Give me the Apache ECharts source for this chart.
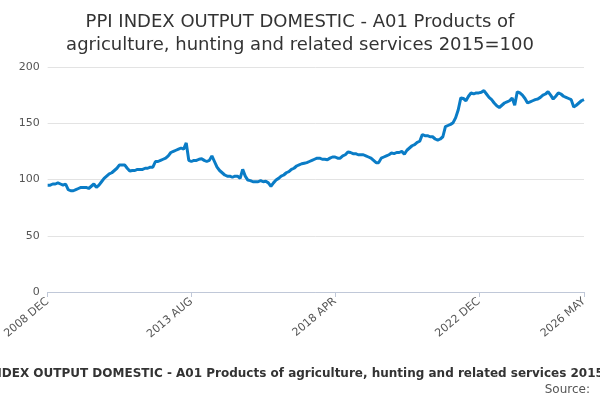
<!DOCTYPE html>
<html>
<head>
<meta charset="utf-8">
<script src="https://cdn.jsdelivr.net/npm/echarts@6/dist/echarts.min.js"></script>
<style>html,body{margin:0;padding:0;background:#fff}#main{width:600px;height:400px}</style>
</head>
<body>
<div id="main"></div>
<script>
// monthly index, 2008 DEC .. 2026 MAY
var values = [
	95,95,96,96,97,96,95,96,91,90,
	90,91,92,93,93,93,92,94,96,93,
	95,98,101,103,105,106,108,110,113,113,
	113,110,107.5,108,108,109,109,109,110,110,
	111,111,116,116,117,118,119,121,124,125,
	126,127,128,127,132.5,117,116,117,117,118,
	118.5,117,116,117,121,116,111,108,106,104,
	103,103,102,103,103,101,109,103,99.5,99,
	98,98,98,99,98,98.5,97,94,97,99.5,
	101,103,104,106,107,109,110,112,113,114,
	114.5,115,116,117,118,119,119,118,118,117.5,
	119,120,120,119,119,121,122,124.5,124,123,
	123,122,122,122,121,120,119,117,115,115,
	119,120,121,122,123.5,123,124,124,125,122.5,
	126,128,130,131,133,134,140,139,139,138,
	138,136,135,136,138,147,148,149,150.5,155,
	162,172.5,172,170,174,177,176,177,177,177.5,
	179,176,173,171,168,165.5,164,166,168,169,
	170,172.5,166,178,177,175,172,168,169,170,
	171,171.5,173,175,176,178,175,171.5,174,177,
	176,174,173,172,171,164.5,166,168,170,171
];
var monthNames = ['JAN','FEB','MAR','APR','MAY','JUN','JUL','AUG','SEP','OCT','NOV','DEC'];
var yTicks = [0, 50, 100, 150, 200];
var titleText = 'PPI INDEX OUTPUT DOMESTIC - A01 Products of\nagriculture, hunting and related services 2015=100';
var footText = 'PPI INDEX OUTPUT DOMESTIC - A01 Products of agriculture, hunting and related services 2015=100';

var months = [];
for (var i = 0; i < values.length; i++) {
	var m = 11 + i;
	months.push((2008 + Math.floor(m / 12)) + ' ' + monthNames[m % 12]);
}
var lastIdx = months.length - 1;

var myChart = echarts.init(document.getElementById('main'));
myChart.setOption({
	animation: false,
	title: {
		text: titleText,
		left: 'center',
		top: 6,
		textStyle: { fontFamily: 'DejaVu Sans', fontSize: 18, fontWeight: 'normal', color: '#333', lineHeight: 23 }
	},
	graphic: [{
		type: 'text', left: 'center', top: 368,
		style: { text: footText, font: 'bold 12px DejaVu Sans', fill: '#333' }
	}, {
		type: 'text', right: 10, top: 384,
		style: { text: 'Source:', font: '12px DejaVu Sans', fill: '#555' }
	}],
	grid: { left: 47, right: 16, top: 67, bottom: 108 },
	xAxis: {
		type: 'category',
		data: months,
		boundaryGap: false,
		axisLine: { lineStyle: { color: '#c0c8d8' } },
		axisTick: { alignWithLabel: true, interval: function (idx) { return idx % 56 === 0 || idx === lastIdx; }, lineStyle: { color: '#c0c8d8' } },
		axisLabel: {
			interval: function (idx) { return idx % 56 === 0 || idx === lastIdx; },
			rotate: 40, color: '#555', fontSize: 11, fontFamily: 'DejaVu Sans'
		}
	},
	yAxis: {
		type: 'value',
		min: yTicks[0], max: yTicks[yTicks.length - 1], interval: 50,
		axisLabel: { color: '#555', fontSize: 11, fontFamily: 'DejaVu Sans' },
		splitLine: { lineStyle: { color: '#e3e3e3' } }
	},
	series: [{
		type: 'line',
		data: values,
		symbol: 'none',
		lineStyle: { color: '#0a7cc6', width: 3 }
	}]
});
</script>
</body>
</html>
